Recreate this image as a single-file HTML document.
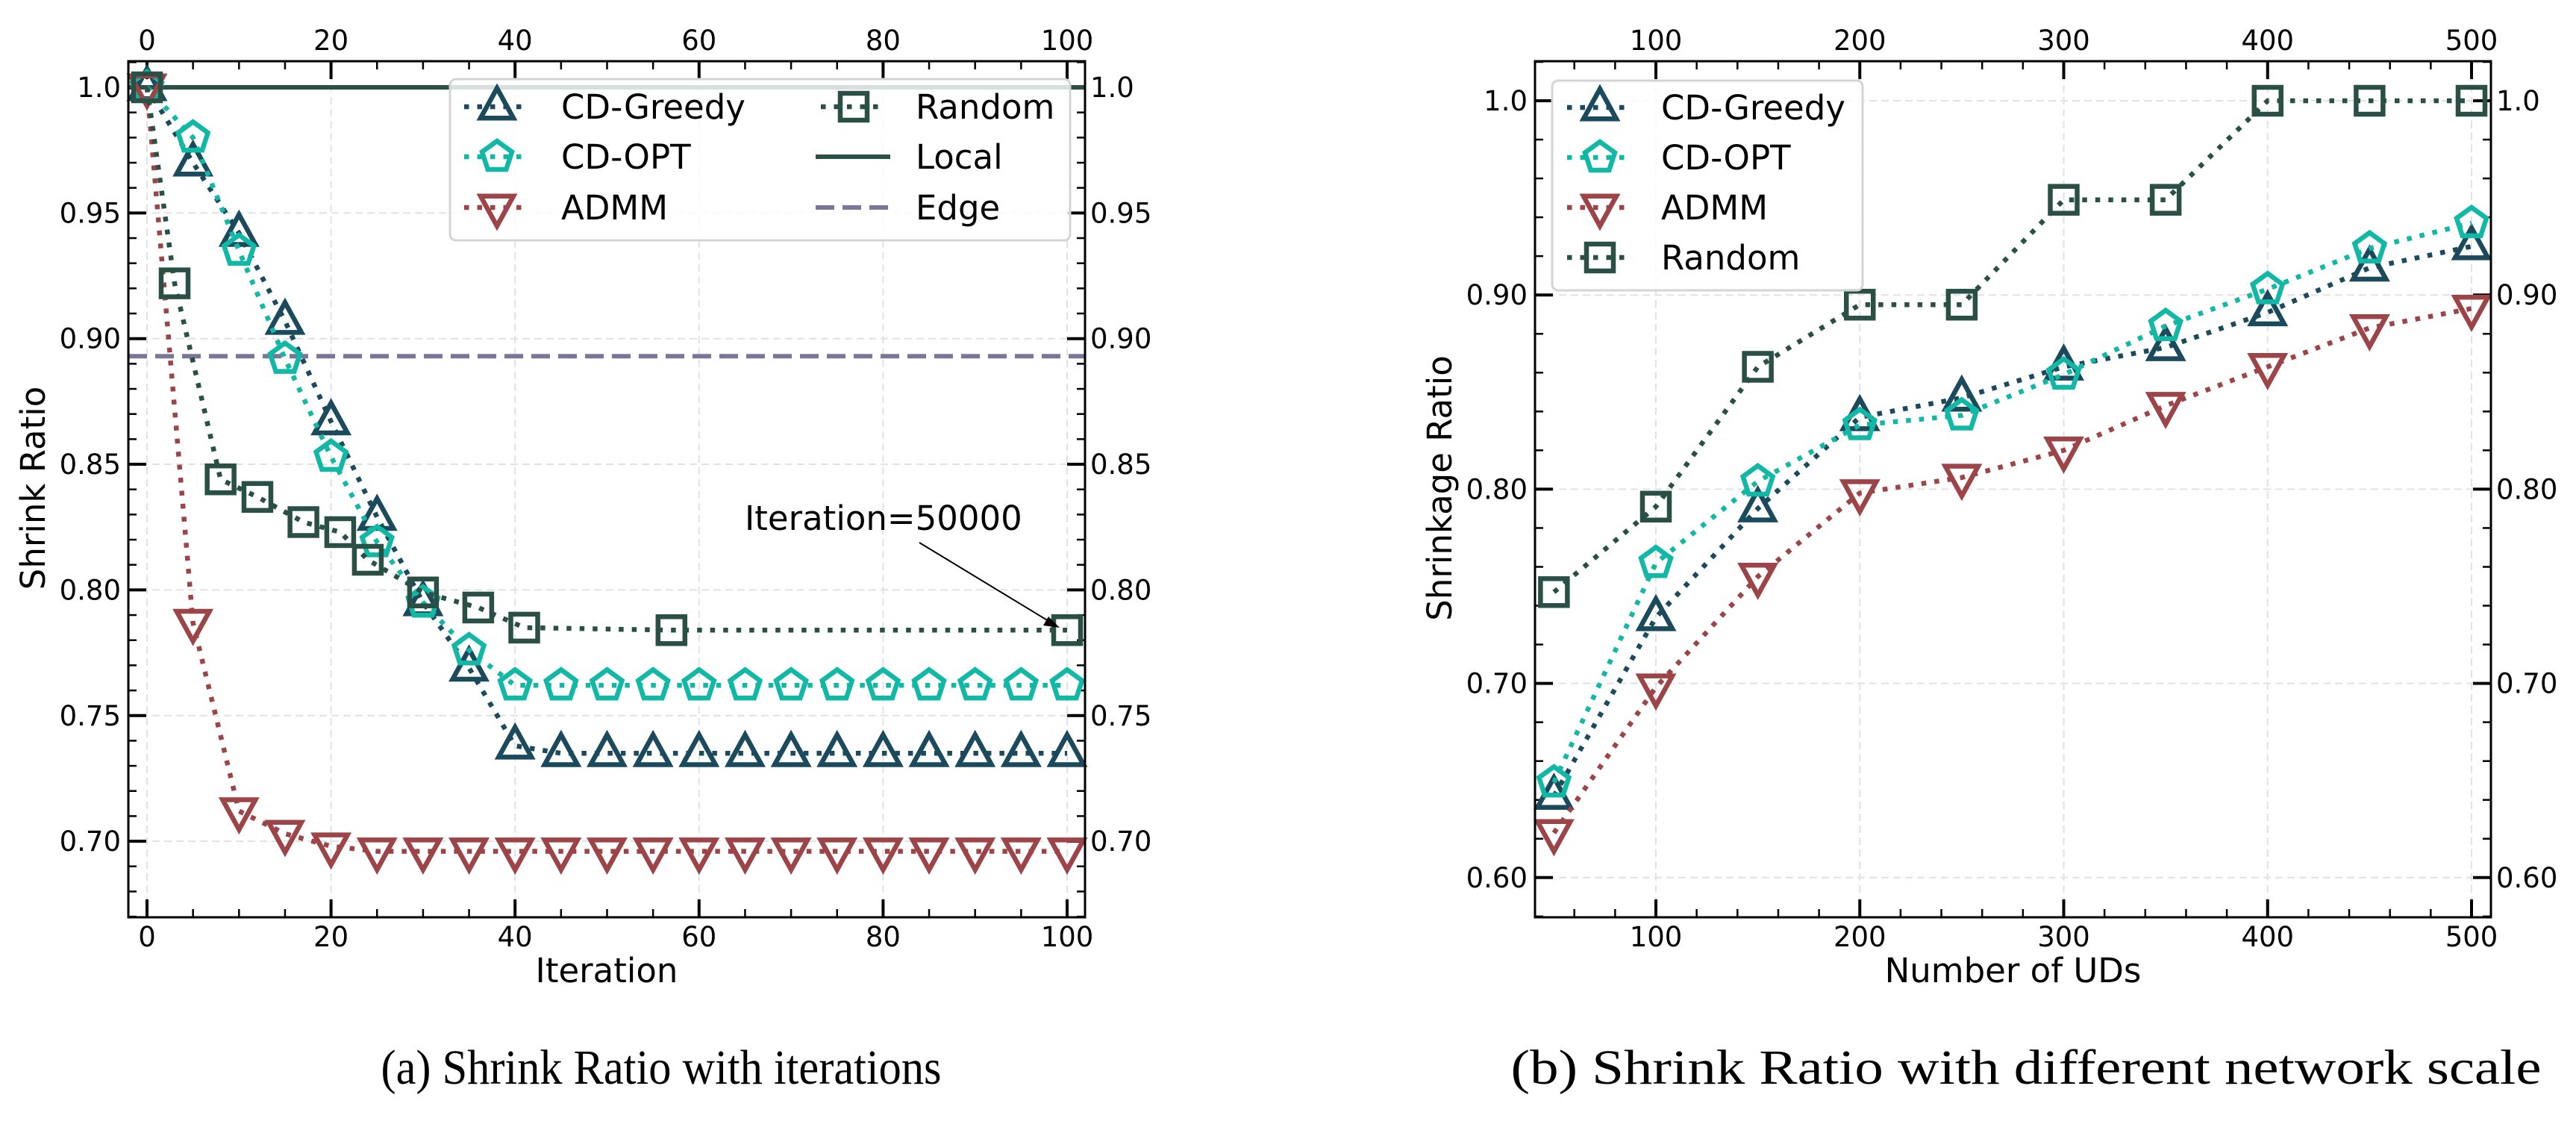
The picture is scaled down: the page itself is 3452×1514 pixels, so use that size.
<!DOCTYPE html>
<html><head><meta charset="utf-8"><style>
html,body{margin:0;padding:0;background:#fff;}
svg{display:block;font-family:"DejaVu Sans","Liberation Sans",sans-serif;}
</style></head><body>
<svg id="fig" width="3452" height="1514" viewBox="0 0 3452 1514" xmlns="http://www.w3.org/2000/svg"></svg>
<script>
// ---- Chart (a) data ----
const aIterX = [0,5,10,15,20,25,30,35,40,45,50,55,60,65,70,75,80,85,90,95,100];
const aGreedy = [1.0,0.970,0.942,0.907,0.867,0.829,0.795,0.769,0.738,0.735,0.735,0.735,0.735,0.735,0.735,0.735,0.735,0.735,0.735,0.735,0.735];
const aOpt = [1.0,0.980,0.935,0.892,0.853,0.819,0.795,0.776,0.762,0.762,0.762,0.762,0.762,0.762,0.762,0.762,0.762,0.762,0.762,0.762,0.762];
const aAdmm = [1.0,0.787,0.712,0.703,0.698,0.696,0.696,0.696,0.696,0.696,0.696,0.696,0.696,0.696,0.696,0.696,0.696,0.696,0.696,0.696,0.696];
const aRandomX = [0,3,8,12,17,21,24,30,36,41,57,100];
const aRandom = [1.0,0.922,0.844,0.837,0.827,0.823,0.812,0.799,0.793,0.785,0.784,0.784];
const aLocal = 1.0;
const aEdge = 0.893;
const aXTicks = [0,20,40,60,80,100];
const aYTicks = [0.70,0.75,0.80,0.85,0.90,0.95,1.0];
const aYTickLabels = ["0.70","0.75","0.80","0.85","0.90","0.95","1.0"];
// ---- Chart (b) data ----
const bUDs = [50,100,150,200,250,300,350,400,450,500];
const bGreedy = [0.642,0.734,0.790,0.837,0.847,0.863,0.873,0.891,0.914,0.925];
const bOpt = [0.649,0.762,0.804,0.833,0.838,0.859,0.884,0.903,0.924,0.937];
const bAdmm = [0.623,0.698,0.755,0.798,0.806,0.820,0.843,0.863,0.883,0.893];
const bRandom = [0.747,0.791,0.863,0.895,0.895,0.949,0.949,1.0,1.0,1.0];
const bXTicks = [100,200,300,400,500];
const bYTicks = [0.60,0.70,0.80,0.90,1.0];
const bYTickLabels = ["0.60","0.70","0.80","0.90","1.0"];

const C = {greedy:"#1b4a5c", opt:"#12b8a6", admm:"#9c4447", random:"#2a5046", local:"#2b5147", edge:"#7a7699"};
const NS="http://www.w3.org/2000/svg";
const fig=document.getElementById('fig');
function el(tag,attrs,parent){const e=document.createElementNS(NS,tag);for(const k in attrs)e.setAttribute(k,attrs[k]);(parent||fig).appendChild(e);return e;}

function marker(g,type,x,y,color){
  let m;
  if(type==='tri'){const h=40,w=44;m=el('polygon',{points:`${x},${y-h*0.62} ${x-w/2},${y+h*0.38} ${x+w/2},${y+h*0.38}`,fill:'none',stroke:color,'stroke-width':6.5},g);}
  else if(type==='tridown'){const h=40,w=44;m=el('polygon',{points:`${x},${y+h*0.62} ${x-w/2},${y-h*0.38} ${x+w/2},${y-h*0.38}`,fill:'none',stroke:color,'stroke-width':6.5},g);}
  else if(type==='pent'){const r=21;let p=[];for(let i=0;i<5;i++){const a=-Math.PI/2+i*2*Math.PI/5;p.push((x+r*Math.cos(a)).toFixed(1)+','+(y+r*Math.sin(a)).toFixed(1));}m=el('polygon',{points:p.join(' '),fill:'none',stroke:color,'stroke-width':6.5},g);}
  else {m=el('rect',{x:x-18,y:y-18,width:36,height:36,fill:'none',stroke:color,'stroke-width':6.5},g);}
  return m;
}

function drawChart(cfg){
  const g=el('g',{});
  
  
  const L=cfg.L,R=cfg.R,T=82,B=1229;
  const sx=v=>cfg.x0px+(v-cfg.x0)*cfg.kx;
  const Y=v=>cfg.y1px+(1.0-v)*cfg.ky;
  const grid=el('g',{},g);
  
  
  cfg.xTicks.forEach(v=>el('line',{x1:sx(v),x2:sx(v),y1:T,y2:B,stroke:'#e2e2e2','stroke-width':2,'stroke-dasharray':'10 6'},grid));
  cfg.yTicks.forEach(v=>el('line',{x1:L,x2:R,y1:Y(v),y2:Y(v),stroke:'#e2e2e2','stroke-width':2,'stroke-dasharray':'10 6'},grid));
  const tk=el('g',{stroke:'#000'},g);
  
  
  for(let v=cfg.xMinorStart;v<=cfg.xMax;v+=cfg.xMinor){const x=sx(v);if(x<L||x>R)continue;const maj=cfg.xTicks.some(t=>Math.abs(t-v)<1e-6);const len=maj?24:11;const w=maj?4:2.5;
    el('line',{x1:x,x2:x,y1:B,y2:B-len,'stroke-width':w},tk);el('line',{x1:x,x2:x,y1:T,y2:T+len,'stroke-width':w},tk);}
  for(let i=0;;i++){const v=+(cfg.yMinorStart+i*cfg.yMinor).toFixed(4);if(v>cfg.yMax)break;const y=Y(v);if(y<T||y>B)continue;const maj=cfg.yTicks.some(t=>Math.abs(t-v)<1e-6);const len=maj?24:11;const w=maj?4:2.5;
    el('line',{x1:L,x2:L+len,y1:y,y2:y,'stroke-width':w},tk);el('line',{x1:R,x2:R-len,y1:y,y2:y,'stroke-width':w},tk);}
  cfg.xTicks.forEach(v=>{
    const t1=el('text',{x:sx(v),y:1268,'text-anchor':'middle','font-size':37},g);t1.textContent=v;
    
    
    const t2=el('text',{x:sx(v),y:67,'text-anchor':'middle','font-size':37},g);t2.textContent=v;
    
    
  });
  cfg.yTicks.forEach((v,i)=>{
    const t1=el('text',{x:L-10,y:Y(v)+13,'text-anchor':'end','font-size':37},g);t1.textContent=cfg.yLabels[i];
    
    
    const t2=el('text',{x:R+7,y:Y(v)+13,'text-anchor':'start','font-size':37},g);t2.textContent=cfg.yLabels[i];
    
    
  });
  const xt=el('text',{x:(L+R)/2,y:1316,'text-anchor':'middle','font-size':45},g);xt.textContent=cfg.xTitle;
  
  
  const yt=el('text',{x:0,y:0,'text-anchor':'middle','font-size':45,transform:`translate(${cfg.yTitleX},654) rotate(-90)`},g);yt.textContent=cfg.yTitle;
  
  
  const cid='clip'+cfg.name;
  const cp=el('clipPath',{id:cid},g);el('rect',{x:L-30,y:T-30,width:R-L+60,height:B-T+60},cp);
  const plot=el('g',{'clip-path':`url(#${cid})`},g);
  (cfg.hlines||[]).forEach(h=>{
    const ln=el('line',{x1:L,x2:R,y1:Y(h.v),y2:Y(h.v),stroke:h.color,'stroke-width':6,'stroke-dasharray':h.dash||''},plot);
    
    
  });
  cfg.series.forEach(s=>{
    const sg=el('g',{},plot);
    
    
    const pts=s.x.map((xv,i)=>sx(xv).toFixed(1)+','+Y(s.y[i]).toFixed(1)).join(' ');
    el('polyline',{points:pts,fill:'none',stroke:s.color,'stroke-width':6.5,'stroke-dasharray':'6.5 11'},sg);
    s.x.forEach((xv,i)=>{
      const m=marker(sg,s.m,sx(xv),Y(s.y[i]),s.color);
      
      
    });
  });
  const fr=el('rect',{x:L,y:T,width:R-L,height:B-T,fill:'none',stroke:'#000','stroke-width':3},g);
  
  
  return {g,sx,Y};
}

drawChart({name:'chart-a',L:172,R:1454,x0:0,x0px:197,kx:12.33,y1px:117,ky:3367,
  xTicks:aXTicks,yTicks:aYTicks,yLabels:aYTickLabels,xMinor:5,xMinorStart:0,xMax:100,yMinor:0.01,yMinorStart:0.67,yMax:1.01,
  xTitle:'Iteration',yTitle:'Shrink Ratio',yTitleX:60,
  hlines:[{id:'local-line',v:aLocal,color:C.local},{id:'edge-line',v:aEdge,color:C.edge,dash:'25 11'}],
  series:[
    {id:'cd-greedy-series',x:aIterX,y:aGreedy,color:C.greedy,m:'tri'},
    {id:'cd-opt-series',x:aIterX,y:aOpt,color:C.opt,m:'pent'},
    {id:'admm-series',x:aIterX,y:aAdmm,color:C.admm,m:'tridown'},
    {id:'random-series',x:aRandomX,y:aRandom,color:C.random,m:'sq'}
  ]});
drawChart({name:'chart-b',L:2057,R:3338,x0:100,x0px:2219,kx:2.7325,y1px:135,ky:2602,
  xTicks:bXTicks,yTicks:bYTicks,yLabels:bYTickLabels,xMinor:20,xMinorStart:40,xMax:510,yMinor:0.02,yMinorStart:0.58,yMax:1.02,
  xTitle:'Number of UDs',yTitle:'Shrinkage Ratio',yTitleX:1945,
  series:[
    {id:'cd-greedy-series-b',x:bUDs,y:bGreedy,color:C.greedy,m:'tri'},
    {id:'cd-opt-series-b',x:bUDs,y:bOpt,color:C.opt,m:'pent'},
    {id:'admm-series-b',x:bUDs,y:bAdmm,color:C.admm,m:'tridown'},
    {id:'random-series-b',x:bUDs,y:bRandom,color:C.random,m:'sq'}
  ]});

const an=el('g',{});


const at=el('text',{x:998,y:710,'font-size':45},an);at.textContent='Iteration=50000';
el('line',{x1:1232,y1:727,x2:1405,y2:832,stroke:'#000','stroke-width':2},an);
el('polygon',{points:'1420,841 1398,838 1405,826',fill:'#000'},an);

function legend(name,bx,by,bw,bh,items){
  const g=el('g',{});
  
  
  el('rect',{x:bx,y:by,width:bw,height:bh,rx:8,fill:'rgba(255,255,255,0.82)',stroke:'#d4d4d4','stroke-width':3},g);
  items.forEach(it=>{
    const e=el('g',{},g);
    
    
    if(it.m){el('line',{x1:it.lx,x2:it.lx+80,y1:it.y,y2:it.y,stroke:it.color,'stroke-width':6.5,'stroke-dasharray':'6.5 11'},e);marker(e,it.m,it.lx+44,it.y,it.color);}
    else el('line',{x1:it.lx,x2:it.lx+100,y1:it.y,y2:it.y,stroke:it.color,'stroke-width':6,'stroke-dasharray':it.dash||''},e);
    const t=el('text',{x:it.tx,y:it.y+16,'font-size':45},e);t.textContent=it.label;
  });
}
legend('legend-a',603,106,831,216,[
  {label:'CD-Greedy',m:'tri',color:C.greedy,lx:622,tx:752,y:143},
  {label:'CD-OPT',m:'pent',color:C.opt,lx:622,tx:752,y:210},
  {label:'ADMM',m:'tridown',color:C.admm,lx:622,tx:752,y:278},
  {label:'Random',m:'sq',color:C.random,lx:1100,tx:1227,y:143},
  {label:'Local',color:C.local,lx:1093,tx:1227,y:210},
  {label:'Edge',color:C.edge,dash:'25 11',lx:1093,tx:1227,y:278}
]);
legend('legend-b',2080,108,416,281,[
  {label:'CD-Greedy',m:'tri',color:C.greedy,lx:2100,tx:2226,y:144},
  {label:'CD-OPT',m:'pent',color:C.opt,lx:2100,tx:2226,y:211},
  {label:'ADMM',m:'tridown',color:C.admm,lx:2100,tx:2226,y:278},
  {label:'Random',m:'sq',color:C.random,lx:2100,tx:2226,y:345}
]);

const c1=el('text',{x:886,y:1452,'text-anchor':'middle','font-size':66,'font-family':'"Liberation Serif",serif',textLength:751,lengthAdjust:'spacingAndGlyphs'});
c1.textContent='(a) Shrink Ratio with iterations';


const c2=el('text',{x:2715,y:1452,'text-anchor':'middle','font-size':66,'font-family':'"Liberation Serif",serif',textLength:1381,lengthAdjust:'spacingAndGlyphs'});
c2.textContent='(b) Shrink Ratio with different network scale';


</script>
</body></html>
